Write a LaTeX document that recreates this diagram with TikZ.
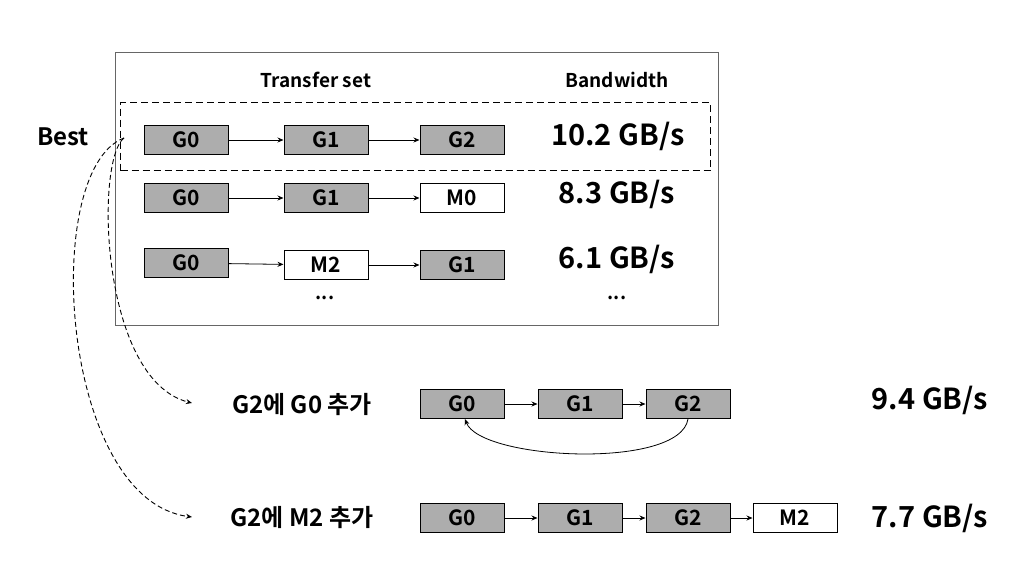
\documentclass[tikz,border=0pt]{standalone}
\usepackage{fontspec}
\setmainfont{Noto Sans CJK KR}[BoldFont={Noto Sans CJK KR Bold}]
\usetikzlibrary{arrows.meta}
\begin{document}
\begin{tikzpicture}[x=1pt,y=-1pt,
  g/.style={draw=black,line width=1pt,fill=black!32,minimum width=84pt,minimum height=29pt,inner sep=0pt,font=\bfseries\fontsize{21}{21}\selectfont},
  w/.style={g,fill=white},
  h/.style={font=\bfseries\fontsize{19}{19}\selectfont},
  bw/.style={font=\bfseries\fontsize{29}{29}\selectfont},
  lb/.style={font=\bfseries\fontsize{24}{24}\selectfont},
  a/.style={-{Stealth[length=6pt,width=5pt]},line width=0.8pt},
  da/.style={-{Stealth[length=6pt,width=5pt]},line width=0.9pt,dash pattern=on 5pt off 3pt}]
\useasboundingbox (0,0) rectangle (1024,575);
\node[draw=black!60,line width=0.8pt,minimum width=603pt,minimum height=273pt,anchor=north west,inner sep=0pt] (outer) at (115,52) {};
\node[h] (hts) at (316,80) {Transfer set};
\node[h] (hbw) at (617,80) {Bandwidth};
\node[draw,line width=1.2pt,dash pattern=on 7pt off 4pt,minimum width=590pt,minimum height=68pt,anchor=north west,inner sep=0pt] (best) at (120,102) {};
\node[lb] (bl) at (63,137) {Best};
% row1
\node[g] (a0) at (186,140) {G0};
\node[g] (a1) at (326,140) {G1};
\node[g] (a2) at (462,140) {G2};
\node[bw] (ab) at (618,136) {10.2 GB/s};
\draw[a] (a0)--(a1); \draw[a] (a1)--(a2);
% row2
\node[g] (b0) at (186,198) {G0};
\node[g] (b1) at (326,198) {G1};
\node[w] (b2) at (462,198) {M0};
\node[bw] (bb) at (617,194) {8.3 GB/s};
\draw[a] (b0)--(b1); \draw[a] (b1)--(b2);
% row3
\node[g] (c0) at (186,263) {G0};
\node[w] (c1) at (326,265) {M2};
\node[g] (c2) at (462,265) {G1};
\node[bw] (cb) at (617,259) {6.1 GB/s};
\draw[a] (c0)--(c1); \draw[a] (c1)--(c2);
\node[h] (d1) at (325,298) {...};
\node[h] (d2) at (617,298) {...};
% bottom1
\node[lb] (l1) at (302,405) {G2에 G0 추가};
\node[g] (e0) at (462,404) {G0};
\node[g] (e1) at (580,404) {G1};
\node[g] (e2) at (688,404) {G2};
\node[bw] (eb) at (930,400) {9.4 GB/s};
\draw[a] (e0)--(e1); \draw[a] (e1)--(e2);
\draw[a] (e2.south) .. controls (680,470) and (480,460) .. (465,419);
% bottom2
\node[lb] (l2) at (302,518) {G2에 M2 추가};
\node[g] (f0) at (462,518) {G0};
\node[g] (f1) at (580,518) {G1};
\node[g] (f2) at (688,518) {G2};
\node[w] (f3) at (795,518) {M2};
\node[bw] (fb) at (930,518) {7.7 GB/s};
\draw[a] (f0)--(f1); \draw[a] (f1)--(f2); \draw[a] (f2)--(f3);
% dashed
\coordinate (s) at (124,138);
\coordinate (t1) at (192,403);
\coordinate (t2) at (192,517);
\draw[da] (s) .. controls (95,160) and (100,380) .. (t1);
\draw[da] (s) .. controls (40,170) and (60,500) .. (t2);
\end{tikzpicture}
\end{document}
